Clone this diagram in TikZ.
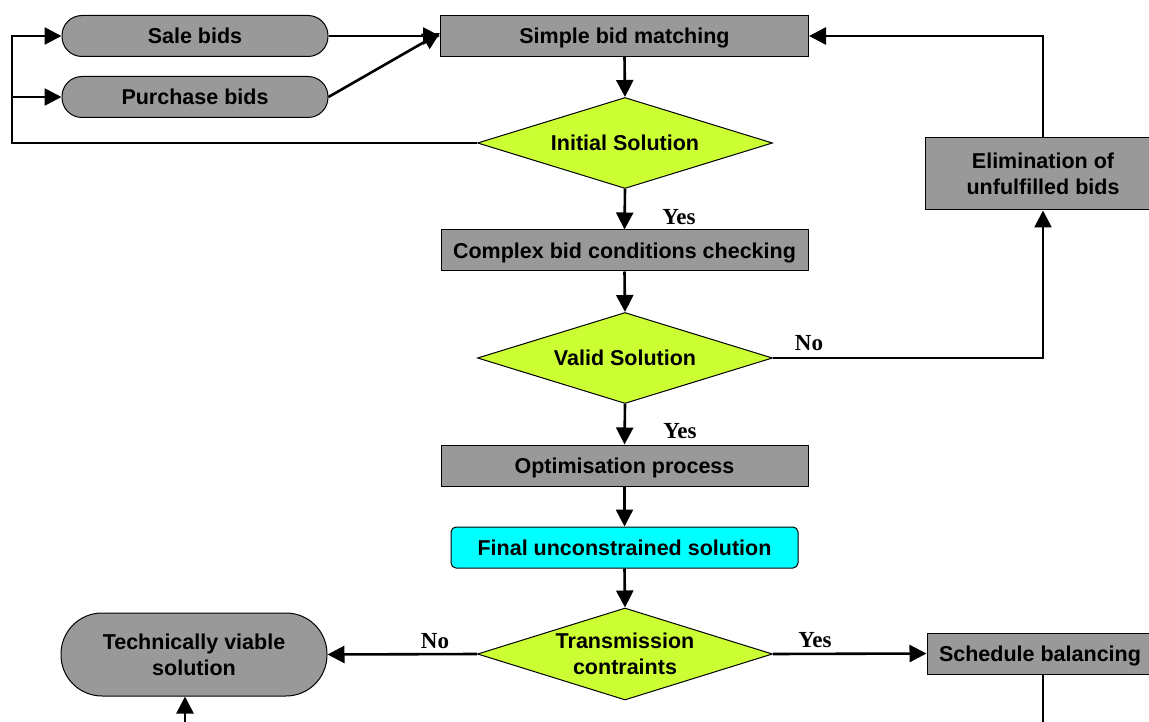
\documentclass[tikz,border=0pt]{standalone}
\usepackage{fontspec}
\setmainfont{Liberation Sans}
\newfontfamily\labelfont{Liberation Serif}
\usetikzlibrary{arrows.meta,shapes.geometric}

\definecolor{boxgray}{RGB}{153,153,153}
\definecolor{decgreen}{RGB}{204,255,51}
\definecolor{termcyan}{RGB}{0,255,255}

\tikzset{
  txt/.style={font=\fontsize{21.5}{26}\selectfont\bfseries, text=black, align=center, inner sep=0pt, text depth=0pt},
  procbox/.style={txt, draw=black, line width=1pt, fill=boxgray, rectangle},
  pill/.style={procbox, rounded corners=#1},
  decision/.style={txt, draw=black, line width=1pt, fill=decgreen, diamond, shape aspect=3.2,
                   minimum width=295pt, minimum height=91pt},
  result/.style={txt, draw=black, line width=1pt, fill=termcyan, rectangle, rounded corners=5pt,
                 minimum width=347pt, minimum height=41pt},
  link/.style={line width=2.6pt, draw=black},
  flow/.style={link, -{Triangle[length=17pt,width=17pt]}},
  answer/.style={font=\labelfont\fontsize{23}{26}\selectfont\bfseries, inner sep=0pt},
}

\begin{document}
\begin{tikzpicture}[x=1pt,y=-1pt]
\useasboundingbox (0,0) rectangle (1149,722);
\clip (0,0) rectangle (1149,722);

% bid inputs
\node[pill=20pt, minimum width=266pt, minimum height=41pt] (sale) at (195,36) {Sale bids};
\node[pill=20pt, minimum width=266pt, minimum height=41pt] (purch) at (195,97) {Purchase bids};

% main column
\node[procbox, minimum width=368pt, minimum height=41pt] (simple) at (624.5,36) {Simple bid matching};
\node[decision] (init) at (625,143) {Initial Solution};
\node[procbox, minimum width=367pt, minimum height=41pt] (complex) at (624.5,250.5) {Complex bid conditions checking};
\node[decision] (valid) at (625,358) {Valid Solution};
\node[procbox, minimum width=367pt, minimum height=41pt] (optim) at (624.5,465.5) {Optimisation process};
\node[result] (final) at (624.5,547.5) {Final unconstrained solution};
\node[decision, minimum height=92pt] (trans) at (625,654) {Transmission\\contraints};

% side nodes
\node[procbox, minimum width=236pt, minimum height=72pt] (elim) at (1043,174) {Elimination of\\unfulfilled bids};
\node[pill=41pt, minimum width=266pt, minimum height=83pt] (tech) at (194,654.5) {Technically viable\\solution};
\node[procbox, minimum width=232pt, minimum height=41pt] (sched) at (1043,653.5) {\hspace*{-6pt}Schedule balancing};

% free ends and corners
\coordinate (lb) at (12,143);
\coordinate (tin) at (185,722);
\coordinate (sout) at (1043,722);

% connectors
\draw[flow] (sale.east) -- (simple.west);
\draw[flow] (purch.east) -- ([yshift=3pt]simple.west);
\draw[flow] (simple.south) -- (init.north);
\draw[flow] (init.west) -- (lb) |- (sale.west);
\draw[flow] (lb |- purch.west) -- (purch.west);
\draw[flow] (init.south) -- (complex.north);
\draw[flow] (complex.south) -- (valid.north);
\draw[flow] (valid.east) -| (elim.south);
\draw[flow] (elim.north) |- (simple.east);
\draw[flow] (valid.south) -- (optim.north);
\draw[flow] (optim.south) -- (final.north);
\draw[flow] (final.south) -- (trans.north);
\draw[flow] (trans.west) -- (tech.east);
\draw[flow] (trans.east) -- (sched.west);
\draw[flow] (tin) -- (tin |- tech.south);
\draw[link] (sched.south) -- (sout);

% branch labels
\node[answer] (y1) at (679,217.5) {Yes};
\node[answer] (y2) at (680,431.5) {Yes};
\node[answer] (n1) at (809,343.5) {No};
\node[answer] (n2) at (435,641.5) {No};
\node[answer] (y3) at (815,640) {Yes};
\end{tikzpicture}
\end{document}
